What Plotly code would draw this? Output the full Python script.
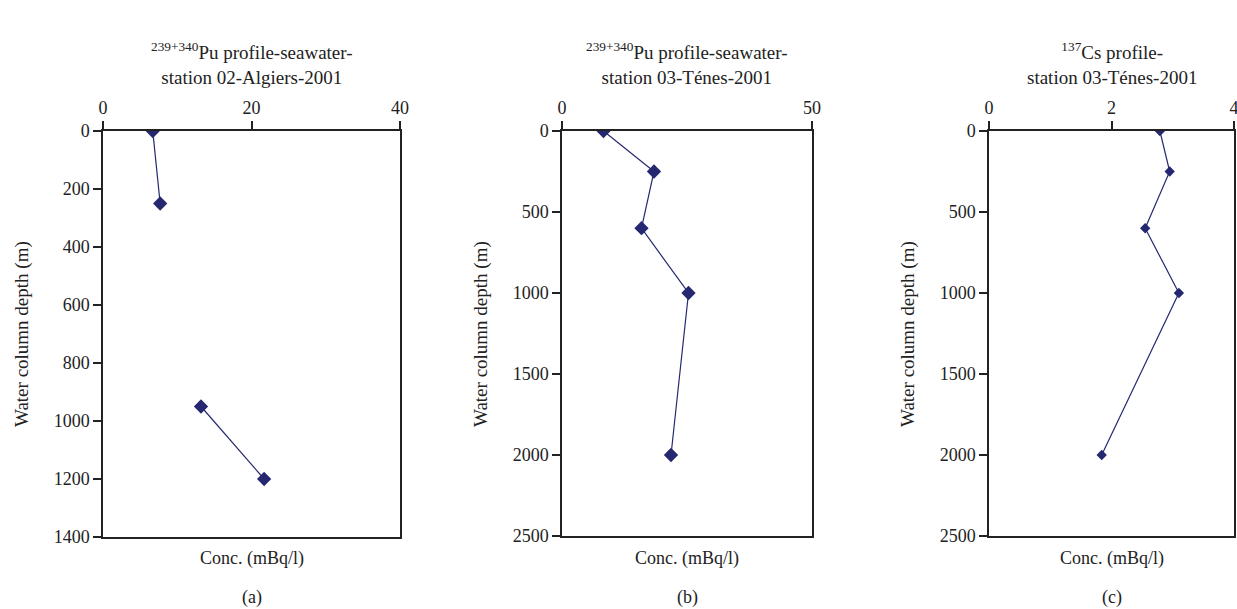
import plotly.graph_objects as go

# Panel (a): 239+340Pu, station 02 Algiers 2001 (None = gap in line)
depth_a = [0, 250, None, 950, 1200]
conc_a = [6.7, 7.7, None, 13.2, 21.7]
# Panel (b): 239+340Pu, station 03 Ténes 2001
depth_b = [0, 250, 600, 1000, 2000]
conc_b = [8.3, 18.4, 15.9, 25.3, 21.8]
# Panel (c): 137Cs, station 03 Ténes 2001
depth_c = [0, 250, 600, 1000, 2000]
conc_c = [2.79, 2.95, 2.55, 3.1, 1.84]

titles = [
    "<sup>239+340</sup>Pu profile-seawater-<br>station 02-Algiers-2001",
    "<sup>239+340</sup>Pu profile-seawater-<br>station 03-Ténes-2001",
    "<sup>137</sup>Cs profile-<br>station 03-Ténes-2001",
]
letters = ["(a)", "(b)", "(c)"]

W, H = 1237, 609
FONT = "Liberation Serif"
NAVY = "#252871"
INK = "#222222"

def fx(px):
    return px / W

def fy(py):
    return 1 - py / H

panels = [
    dict(x=conc_a, y=depth_a, xr=[0, 40], xd=20, yr=[1400, 0], yd=200,
         px=(103, 400), py=(131, 537), ms=11, ytx=22),
    dict(x=conc_b, y=depth_b, xr=[0, 50], xd=50, yr=[2500, 0], yd=500,
         px=(562, 812), py=(131, 536), ms=11, ytx=481),
    dict(x=conc_c, y=depth_c, xr=[0, 4], xd=2, yr=[2500, 0], yd=500,
         px=(989, 1234), py=(131, 536), ms=8, ytx=908),
]

fig = go.Figure()
annotations = []
for i, p in enumerate(panels):
    n = "" if i == 0 else str(i + 1)
    fig.add_trace(go.Scatter(
        x=p["x"], y=p["y"], mode="lines+markers",
        line=dict(color=NAVY, width=1.2),
        marker=dict(symbol="diamond", size=p["ms"], color=NAVY),
        connectgaps=False, showlegend=False,
        xaxis="x" + n, yaxis="y" + n,
    ))
    axis_common = dict(
        showgrid=False, zeroline=False,
        showline=True, linecolor=INK, linewidth=1.5, mirror=True,
        ticks="outside", ticklen=8, tickcolor=INK, tickwidth=1.5,
        tickfont=dict(family=FONT, size=18, color=INK),
        ticklabeloverflow="allow",
    )
    fig.update_layout(**{
        "xaxis" + n: dict(domain=[fx(p["px"][0]), fx(p["px"][1])],
                          range=p["xr"], dtick=p["xd"],
                          side="top", anchor="y" + n, **axis_common),
        "yaxis" + n: dict(domain=[fy(p["py"][1]), fy(p["py"][0])],
                          range=p["yr"], dtick=p["yd"],
                          anchor="x" + n, **axis_common),
    })
    cx = fx((p["px"][0] + p["px"][1]) / 2)
    annotations.append(dict(
        text=titles[i], x=cx, y=fy(64), xref="paper", yref="paper",
        showarrow=False, font=dict(family=FONT, size=19, color=INK),
        xanchor="center", yanchor="middle",
    ))
    annotations.append(dict(
        text="Conc. (mBq/l)", x=cx, y=fy(558), xref="paper", yref="paper",
        showarrow=False, font=dict(family=FONT, size=18, color=INK),
        xanchor="center", yanchor="middle",
    ))
    annotations.append(dict(
        text=letters[i], x=cx, y=fy(597), xref="paper", yref="paper",
        showarrow=False, font=dict(family=FONT, size=18, color=INK),
        xanchor="center", yanchor="middle",
    ))
    annotations.append(dict(
        text="Water column depth (m)", x=fx(p["ytx"]),
        y=fy(334), xref="paper", yref="paper", textangle=-90,
        showarrow=False, font=dict(family=FONT, size=19, color=INK),
        xanchor="center", yanchor="middle",
    ))

fig.update_layout(
    width=W, height=H,
    margin=dict(l=0, r=0, t=0, b=0, autoexpand=False),
    paper_bgcolor="white", plot_bgcolor="white",
    font=dict(family=FONT, color=INK),
    annotations=annotations,
)
fig.write_html(
    "out.html",
    config={"displayModeBar": False},
    post_script="document.body.style.margin='0';document.body.style.overflow='hidden';",
)
